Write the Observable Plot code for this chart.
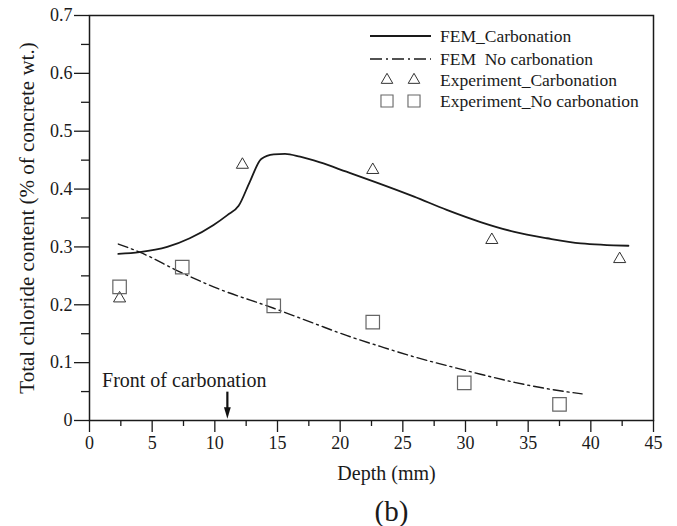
<!DOCTYPE html>
<html>
<head>
<meta charset="utf-8">
<script src="https://cdn.jsdelivr.net/npm/d3@7"></script>
<script src="https://cdn.jsdelivr.net/npm/@observablehq/plot@0.6"></script>
<style>
  html, body { margin: 0; padding: 0; background: #fff; }
  #chart svg { display: block; }
</style>
</head>
<body>
<div id="chart"></div>
<script>
// ---- data ----
const femCarbDepth = [2.3, 4.0, 6.2, 8.0, 9.9, 11.0, 11.9, 12.8, 13.7, 14.7, 15.6, 16.8, 18.4, 20.5, 22.7, 25.9, 28.5, 31.2, 33.9, 36.5, 39.2, 43.0];
const femCarbValue = [0.288, 0.291, 0.300, 0.315, 0.338, 0.355, 0.371, 0.413, 0.452, 0.460, 0.461, 0.456, 0.446, 0.430, 0.413, 0.387, 0.364, 0.343, 0.326, 0.315, 0.306, 0.302];

const femNoDepth = [2.3, 4.0, 7.2, 9.9, 14.7, 17.9, 20.5, 23.2, 25.9, 28.5, 31.2, 33.9, 36.5, 39.3];
const femNoValue = [0.305, 0.291, 0.257, 0.231, 0.194, 0.168, 0.147, 0.128, 0.110, 0.095, 0.080, 0.066, 0.055, 0.046];

const expCarbDepth = [2.4, 12.2, 22.6, 32.1, 42.3];
const expCarbValue = [0.211, 0.442, 0.433, 0.312, 0.279];

const expNoDepth = [2.4, 7.4, 14.7, 22.6, 29.9, 37.5];
const expNoValue = [0.231, 0.265, 0.198, 0.170, 0.065, 0.028];

const seriesNames = ["FEM_Carbonation", "FEM\u2002No carbonation", "Experiment_Carbonation", "Experiment_No carbonation"];

const xMajorTicks = [0, 5, 10, 15, 20, 25, 30, 35, 40, 45];
const xTickLabels = ["0", "5", "10", "15", "20", "25", "30", "35", "40", "45"];
const xMinorTicks = [2.5, 7.5, 12.5, 17.5, 22.5, 27.5, 32.5, 37.5, 42.5];
const yMajorTicks = [0, 0.1, 0.2, 0.3, 0.4, 0.5, 0.6, 0.7];
const yTickLabels = ["0", "0.1", "0.2", "0.3", "0.4", "0.5", "0.6", "0.7"];
const yMinorTicks = [0.05, 0.15, 0.25, 0.35, 0.45, 0.55, 0.65];

const xLabel = "Depth (mm)";
const yLabel = "Total chloride content (% of concrete wt.)";
const caption = "(b)";

const frontLabel = ["Front of carbonation"];
const frontLabelPos = [1.0, 0.069];      // depth, value where the label starts
const frontDepth = [11];
const frontArrowTop = [0.049];
const frontArrowTip = [0.003];

// ---- tables ----
const femCarb = femCarbDepth.map((d, i) => ({depth: d, value: femCarbValue[i]}));
const femNo = femNoDepth.map((d, i) => ({depth: d, value: femNoValue[i]}));
const expCarb = expCarbDepth.map((d, i) => ({depth: d, value: expCarbValue[i]}));
const expNo = expNoDepth.map((d, i) => ({depth: d, value: expNoValue[i]}));
const arrow = frontDepth.map((d, i) => ({depth: d, top: frontArrowTop[i], tip: frontArrowTip[i]}));

const FONT = "'Liberation Serif', 'Times New Roman', serif";
const DASHDOT = "10,4,2,4";

// arrow head: narrow triangle with its tip at the origin, pointing down
const arrowHead = {
  draw(ctx) {
    ctx.moveTo(0, 0);
    ctx.lineTo(-3.4, -11.5);
    ctx.lineTo(3.4, -11.5);
    ctx.closePath();
  }
};

const chart = Plot.plot({
  width: 677,
  height: 526,
  marginLeft: 89,
  marginRight: 24,
  marginTop: 15,
  marginBottom: 106,
  style: {fontFamily: FONT, fontSize: "18px", background: "#fff", color: "#1a1a1a"},
  x: {domain: [0, 45], label: null},
  y: {domain: [0, 0.7], label: null},
  marks: [
    Plot.axisX({ticks: xMinorTicks, tickSize: 6, tickFormat: () => "", label: null, stroke: "#1a1a1a", strokeWidth: 1.3}),
    Plot.axisX({ticks: xMajorTicks, tickSize: 12, tickPadding: 4, tickFormat: (d, i) => xTickLabels[i], label: null, stroke: "#1a1a1a", strokeWidth: 1.3, fontSize: 18}),
    Plot.axisY({ticks: yMinorTicks, tickSize: 8, tickFormat: () => "", label: null, stroke: "#1a1a1a", strokeWidth: 1.3}),
    Plot.axisY({ticks: yMajorTicks, tickSize: 15, tickPadding: 2, tickFormat: (d, i) => yTickLabels[i], label: null, stroke: "#1a1a1a", strokeWidth: 1.3, fontSize: 18}),
    Plot.frame({stroke: "#1a1a1a", strokeWidth: 1.5}),
    Plot.line(femCarb, {x: "depth", y: "value", curve: "monotone-x", stroke: "#1a1a1a", strokeWidth: 1.8}),
    Plot.line(femNo, {x: "depth", y: "value", curve: "monotone-x", stroke: "#1a1a1a", strokeWidth: 1.4, strokeDasharray: DASHDOT}),
    Plot.dot(expCarb, {x: "depth", y: "value", symbol: "triangle", r: 4.5, stroke: "#333", strokeWidth: 1, fill: "none"}),
    Plot.dot(expNo, {x: "depth", y: "value", symbol: "square", r: 7.6, stroke: "#666", strokeWidth: 1.2, fill: "none"}),
    Plot.ruleX(arrow, {x: "depth", y1: "top", y2: (d) => d.tip + 0.015, stroke: "#111", strokeWidth: 2.2}),
    Plot.dot(arrow, {x: "depth", y: "tip", symbol: arrowHead, r: 4, fill: "#111", stroke: "none"}),
    Plot.text(frontLabel, {x: () => frontLabelPos[0], y: () => frontLabelPos[1], text: (d) => d, textAnchor: "start", lineAnchor: "middle", fontSize: 20, fill: "#1a1a1a"}),
    Plot.text([xLabel], {frameAnchor: "bottom", text: (d) => d, textAnchor: "middle", lineAnchor: "middle", dx: 15, dy: 53, fontSize: 20, fill: "#1a1a1a"}),
    Plot.text([caption], {frameAnchor: "bottom", text: (d) => d, textAnchor: "middle", lineAnchor: "middle", dx: 20, dy: 91, fontSize: 29, fill: "#1a1a1a"}),
    Plot.text([yLabel], {frameAnchor: "left", text: (d) => d, textAnchor: "middle", lineAnchor: "middle", rotate: -90, dx: -62.5, fontSize: 21, fill: "#1a1a1a"})
  ]
});

document.getElementById("chart").appendChild(chart);

// ---- legend (inside the frame, top right) ----
const svg = d3.select(chart);
const lg = svg.append("g").attr("font-family", FONT).attr("font-size", 17.5).attr("fill", "#1a1a1a").attr("text-anchor", "start");
const rowY = [36, 59, 80, 101];
const lineX0 = 370, lineX1 = 431, sym1 = 387, sym2 = 414, textX = 440;
lg.append("line").attr("x1", lineX0).attr("x2", lineX1).attr("y1", rowY[0]).attr("y2", rowY[0])
  .attr("stroke", "#1a1a1a").attr("stroke-width", 1.8);
lg.append("line").attr("x1", lineX0).attr("x2", lineX1).attr("y1", rowY[1]).attr("y2", rowY[1])
  .attr("stroke", "#1a1a1a").attr("stroke-width", 1.6).attr("stroke-dasharray", "12,4,2,4");
const triPath = d3.symbol(d3.symbolTriangle, 4.3 * 4.3 * Math.PI)();
const sqPath = d3.symbol(d3.symbolSquare, 6.8 * 6.8 * Math.PI)();
[sym1, sym2].forEach(cx => {
  lg.append("path").attr("d", triPath).attr("transform", `translate(${cx},${rowY[2]})`)
    .attr("fill", "none").attr("stroke", "#333").attr("stroke-width", 1);
  lg.append("path").attr("d", sqPath).attr("transform", `translate(${cx},${rowY[3]})`)
    .attr("fill", "none").attr("stroke", "#666").attr("stroke-width", 1.1);
});
seriesNames.forEach((name, i) => {
  lg.append("text").attr("x", textX).attr("y", rowY[i]).attr("dy", "0.32em").attr("text-anchor", "start").text(name);
});
</script>
</body>
</html>
